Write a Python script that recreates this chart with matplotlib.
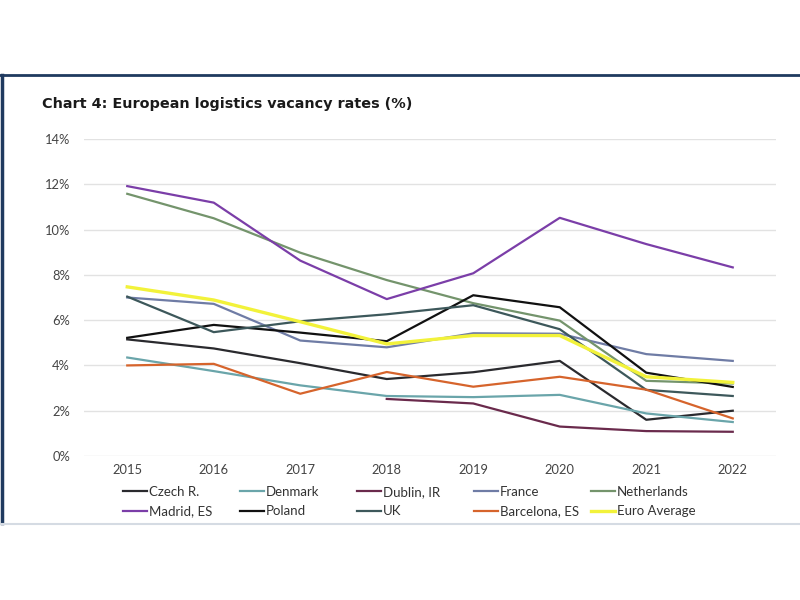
import numpy as np
import matplotlib.pyplot as plt
from matplotlib.lines import Line2D

plt.rcParams['font.family'] = ['Lato', 'DejaVu Sans']

years = [2015, 2016, 2017, 2018, 2019, 2020, 2021, 2022]

czech = [5.15, 4.75, 4.1, 3.4, 3.7, 4.2, 1.6, 2.0]
denmark = [4.35, 3.75, 3.12, 2.65, 2.6, 2.7, 1.88, 1.5]
dublin = [np.nan, np.nan, np.nan, 2.52, 2.32, 1.3, 1.1, 1.07]
france = [7.0, 6.72, 5.1, 4.8, 5.42, 5.4, 4.5, 4.2]
netherlands = [11.58, 10.5, 8.98, 7.77, 6.75, 5.98, 3.32, 3.2]
madrid = [11.92, 11.19, 8.63, 6.93, 8.07, 10.52, 9.36, 8.33]
poland = [5.22, 5.79, 5.45, 5.07, 7.1, 6.57, 3.68, 3.05]
uk = [7.04, 5.47, 5.95, 6.26, 6.66, 5.6, 2.92, 2.65]
barcelona = [4.0, 4.07, 2.75, 3.71, 3.06, 3.5, 2.93, 1.66]
euro_avg = [7.47, 6.89, 5.93, 4.95, 5.32, 5.32, 3.5, 3.25]

names = ['Czech R.', 'Denmark', 'Dublin, IR', 'France', 'Netherlands',
         'Madrid, ES', 'Poland', 'UK', 'Barcelona, ES', 'Euro Average']
series = [czech, denmark, dublin, france, netherlands,
          madrid, poland, uk, barcelona, euro_avg]
colors = ['#2a2a2e', '#6aa5aa', '#6a2a4c', '#6f7ca5', '#74946c',
          '#7b3ea8', '#111111', '#3d585b', '#d6642c', '#f2f23a']

fig = plt.figure(figsize=(8, 6), dpi=100)
ax = fig.add_axes([0.105, 0.24, 0.865, 0.5283])

lines = []
for vals, name, c in zip(series, names, colors):
    lw = 2.4 if name == 'Euro Average' else 1.6
    ln, = ax.plot(years, vals, color=c, lw=lw, label=name)
    lines.append(ln)

ax.set_xlim(2014.5, 2022.5)
ax.set_ylim(0, 14)
ax.set_yticks(range(0, 15, 2))
ax.set_yticklabels([f'{v}%' for v in range(0, 15, 2)])
ax.set_xticks(years)
ax.grid(axis='y', color='#e2e2e2', lw=1)
ax.set_axisbelow(True)
for s in ax.spines.values():
    s.set_visible(False)
ax.tick_params(length=0, labelsize=9.3, colors='#444444', pad=10)
ax.tick_params(axis='x', pad=6)

# legend: 5 evenly spaced columns, two rows
col_x = [123, 240, 357, 474, 591]
for j in range(5):
    fig.legend([lines[j], lines[j + 5]], [names[j], names[j + 5]],
               loc='upper left', bbox_to_anchor=(col_x[j] / 800, 1 - 486 / 600),
               frameon=False, fontsize=9.5, handlelength=1.8,
               handletextpad=0.15, borderpad=0, borderaxespad=0,
               labelspacing=0.55, labelcolor='#333333')

fig.text(42 / 800, 1 - 104 / 600, 'Chart 4: European logistics vacancy rates (%)',
         fontsize=10.4, fontweight='bold', family='DejaVu Sans',
         color='#1a1a1a', va='center')

# outer frame
fig.add_artist(Line2D([0, 1], [1 - 75 / 600] * 2, color='#1f3a5f', lw=2))
fig.add_artist(Line2D([0.002, 0.002], [1 - 523 / 600, 1 - 75 / 600], color='#1f3a5f', lw=2.5))
fig.add_artist(Line2D([0, 1], [1 - 524 / 600] * 2, color='#d5dbe3', lw=1.5))

fig.savefig('out.png', dpi=100)
